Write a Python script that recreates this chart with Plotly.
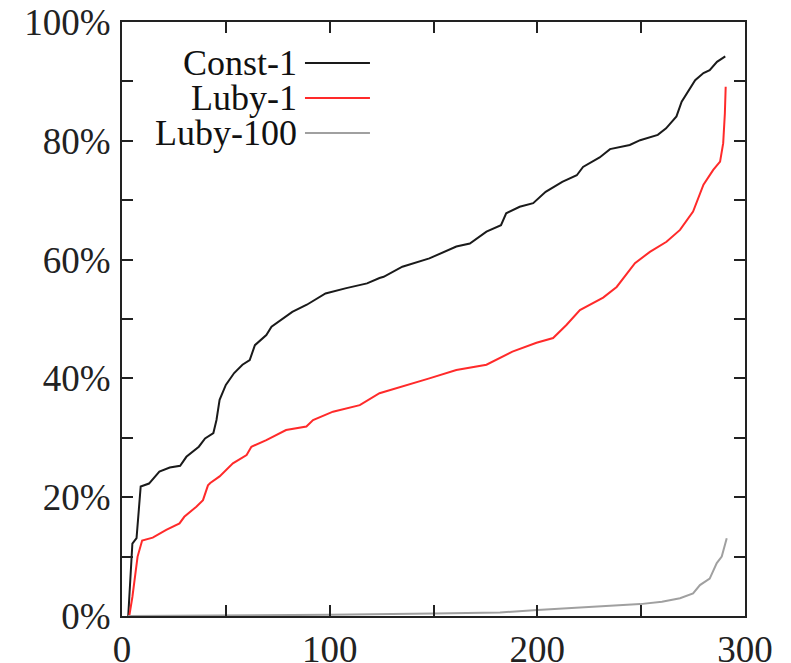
import plotly.graph_objects as go

# ---- data ----
const_x = [3, 5, 7, 9, 13, 18, 23, 28, 31, 37, 40, 44, 45.5, 47, 50, 54, 58, 61.5, 64, 69.5,
           72, 77.5, 82, 89, 98, 108, 118, 124, 126, 135, 148, 161, 167.5, 175.5, 182.5, 185,
           191.5, 198, 204, 212, 219, 222, 230, 235, 244.5, 249.5, 258, 262, 267, 269.5,
           272, 276, 280, 283, 286.5, 290.5]
const_y = [0, 12.2, 13.1, 21.8, 22.3, 24.3, 25, 25.3, 26.8, 28.5, 29.9, 30.8, 33, 36.4, 38.9,
           40.9, 42.3, 43.1, 45.6, 47.3, 48.7, 50.1, 51.2, 52.4, 54.3, 55.2, 56, 56.9, 57.1,
           58.8, 60.2, 62.2, 62.7, 64.7, 65.8, 67.8, 68.9, 69.5, 71.4, 73.1, 74.2, 75.6, 77.2,
           78.6, 79.3, 80.1, 81, 82.1, 84.1, 86.6, 88, 90.2, 91.4, 91.9, 93.3, 94.2]

luby1_x = [3.5, 5, 7.5, 9.7, 14.8, 21.3, 27.7, 30, 35.8, 39, 41.4, 42.5, 47, 53.4, 60, 62.3,
           69.5, 79, 88.8, 92, 101.6, 114.5, 124, 132, 148, 161, 175.5, 188, 199.6, 207.6,
           214, 220.5, 231.7, 238.2, 244.6, 247, 254.2, 262.2, 268.7, 275, 280, 284.7, 288,
           289.5, 290.3, 290.7]
luby1_y = [0, 3.2, 10, 12.7, 13.2, 14.5, 15.6, 16.7, 18.4, 19.5, 22, 22.4, 23.5, 25.7, 27.1,
           28.5, 29.6, 31.3, 31.9, 33, 34.4, 35.5, 37.5, 38.3, 40, 41.4, 42.3, 44.5, 46, 46.8,
           49, 51.5, 53.6, 55.4, 58.3, 59.4, 61.3, 63, 65, 68.1, 72.6, 75.1, 76.5, 79.6, 84.6,
           89.1]

luby100_x = [3, 50, 100, 150, 182, 200, 230, 249.5, 260, 268.7, 275, 278.3, 283, 286.4, 288.8, 291.2]
luby100_y = [0, 0.05, 0.2, 0.4, 0.6, 1, 1.6, 2, 2.4, 3, 3.8, 5.2, 6.3, 8.9, 10, 13.1]

series_names = ["Const-1", "Luby-1", "Luby-100"]
series_colors = ["#1a1a1a", "#ff2a2a", "#a0a0a0"]

y_tickvals = [0, 10, 20, 30, 40, 50, 60, 70, 80, 90, 100]
y_ticktext = ["0%", "", "20%", "", "40%", "", "60%", "", "80%", "", "100%"]
x_tickvals = [0, 50, 100, 150, 200, 250, 300]
x_ticktext = ["0", "", "100", "", "200", "", "300"]

FONT = "Liberation Serif, Times New Roman, serif"

fig = go.Figure()
for xs, ys, name, col in zip([const_x, luby1_x, luby100_x], [const_y, luby1_y, luby100_y],
                             series_names, series_colors):
    fig.add_trace(go.Scatter(x=xs, y=ys, mode="lines", name=name,
                             line=dict(color=col, width=2), showlegend=False))

axis_common = dict(showline=True, linecolor="#222222", linewidth=2, mirror="ticks",
                   ticks="inside", ticklen=11, tickwidth=2, tickcolor="#222222",
                   showgrid=False, zeroline=False, automargin=False,
                   tickfont=dict(family=FONT, size=37, color="#222222"))

fig.update_xaxes(range=[0, 300], tickmode="array", tickvals=x_tickvals, ticktext=x_ticktext,
                 ticklabelstandoff=0, **axis_common)
fig.update_yaxes(range=[0, 100], tickmode="array", tickvals=y_tickvals, ticktext=y_ticktext,
                 ticklabelstandoff=2, **axis_common)

# manual legend (text right, line sample to the right, gnuplot style)
legend_y = [0.931, 0.872, 0.813]
for name, col, ly in zip(series_names, series_colors, legend_y):
    fig.add_annotation(xref="paper", yref="paper", x=0.2825, y=ly, text=name,
                       showarrow=False, xanchor="right", yanchor="middle",
                       borderpad=0,
                       font=dict(family=FONT, size=36, color="#111111"))
    fig.add_shape(type="line", xref="paper", yref="paper", x0=0.2937, x1=0.398, y0=ly, y1=ly,
                  line=dict(color=col, width=2))

fig.update_layout(width=791, height=663, margin=dict(l=122, r=46, t=22, b=47),
                  plot_bgcolor="white", paper_bgcolor="white")

fig.write_html("out.html", config={"displayModeBar": False},
               post_script="document.body.style.margin='0';document.body.style.overflow='hidden';")
